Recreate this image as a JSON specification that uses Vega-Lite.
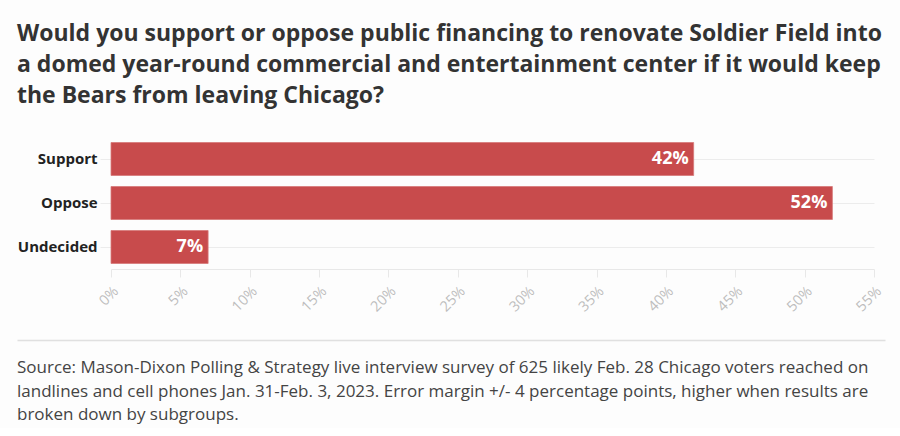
{
  "$schema": "https://vega.github.io/schema/vega-lite/v6.json",
  "background": "#fdfdfd",
  "padding": {"left": 17, "top": 23, "right": 15, "bottom": 5},
  "width": 868,
  "height": 132,
  "title": {
    "text": ["Would you support or oppose public financing to renovate Soldier Field into", "a domed year-round commercial and entertainment center if it would keep", "the Bears from leaving Chicago?"],
    "anchor": "start",
    "font": "Open Sans",
    "fontSize": 23,
    "fontWeight": "bold",
    "color": "#333333",
    "lineHeight": 31,
    "offset": 29
  },
  "config": {
    "view": {"stroke": null},
    "font": "Open Sans"
  },
  "layer": [
    {
      "data": {"values": [
        {"answer": "Support", "share": 0.42},
        {"answer": "Oppose", "share": 0.52},
        {"answer": "Undecided", "share": 0.07}
      ]},
      "encoding": {
        "y": {
          "field": "answer", "type": "nominal", "sort": null,
          "scale": {"paddingInner": 0.25, "paddingOuter": 0.125},
          "axis": {
            "title": null, "domain": false, "grid": false, "offset": -83,
            "ticks": true, "tickColor": "#ececec", "tickSize": -774,
            "labelFont": "Open Sans", "labelFontSize": 15, "labelFontWeight": "bold",
            "labelColor": "#222222", "labelPadding": 777
          }
        },
        "x": {
          "field": "share", "type": "quantitative",
          "scale": {"domain": [0, 0.55], "range": [94, 857]},
          "axis": {
            "title": null, "values": [0,0.05,0.1,0.15,0.2,0.25,0.3,0.35,0.4,0.45,0.5,0.55],
            "format": ".0%", "labelAngle": -45,
            "labelColor": "#bdbdbd", "labelFontSize": 14.5, "labelFont": "Open Sans",
            "domainColor": "#e8e8e8", "tickColor": "#e8e8e8", "tickSize": 8,
            "grid": false, "labelPadding": 7
          }
        }
      },
      "layer": [
        {"mark": {"type": "bar", "color": "#c84b4c", "stroke": "#d77a7a", "strokeWidth": 0.8}},
        {
          "mark": {"type": "text", "align": "right", "dx": -5, "color": "white", "font": "Open Sans", "fontSize": 18, "fontWeight": "bold"},
          "encoding": {"text": {"field": "share", "type": "quantitative", "format": ".0%"}}
        }
      ]
    },
    {
      "data": {"values": [
        {"line": 1, "text": "Source: Mason-Dixon Polling & Strategy live interview survey of 625 likely Feb. 28 Chicago voters reached on"},
        {"line": 2, "text": "landlines and cell phones Jan. 31-Feb. 3, 2023. Error margin +/- 4 percentage points, higher when results are"},
        {"line": 3, "text": "broken down by subgroups."}
      ]},
      "mark": {"type": "text", "align": "left", "baseline": "alphabetic", "font": "Open Sans", "fontSize": 17, "color": "#444444"},
      "encoding": {
        "y": {"field": "line", "type": "ordinal", "scale": {"range": [236, 283], "padding": 0}, "axis": null},
        "x": {
          "datum": 0, "type": "quantitative", "scale": {"domain": [0, 1]},
          "axis": {"orient": "bottom", "offset": 71, "labels": false, "ticks": false, "title": null, "grid": false, "domainColor": "#e0e0e0", "domainWidth": 1.5}
        },
        "text": {"field": "text", "type": "nominal"}
      }
    }
  ],
  "resolve": {
    "scale": {"x": "independent", "y": "independent"},
    "axis": {"x": "independent", "y": "independent"}
  }
}
